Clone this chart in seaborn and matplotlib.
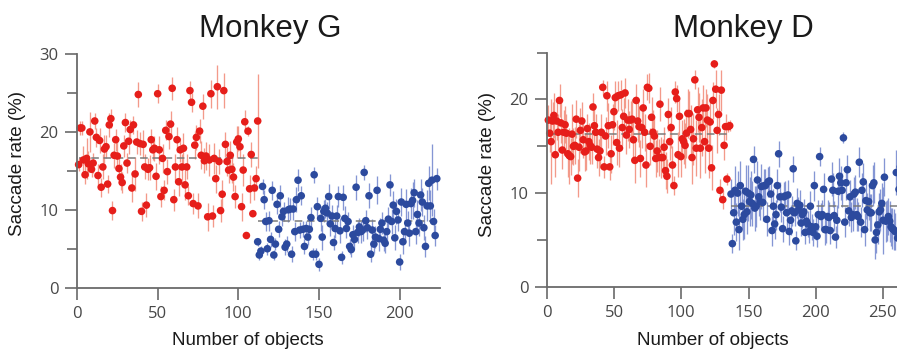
import numpy as np
import pandas as pd
import matplotlib
matplotlib.use("Agg")
import matplotlib.pyplot as plt
import seaborn as sns
from matplotlib.ticker import MultipleLocator

# ---------------- data ----------------
titles = ["Monkey G", "Monkey D"]
ylabel = "Saccade rate (%)"
xlabel = "Number of objects"

# Monkey G
red_G = [15.8, 20.5, 20.5, 16.4, 14.5, 16.6, 15.9, 20.0, 15.2, 16.0,
         21.4, 19.3, 14.4, 18.9, 12.9, 15.5, 17.8, 18.1, 13.3, 20.9,
         21.7, 9.9, 17.0, 19.0, 16.9, 15.3, 14.2, 13.5, 18.2, 21.2,
         16.0, 18.8, 20.3, 12.8, 20.9, 14.6, 18.7, 24.8, 18.5, 9.8,
         18.4, 15.5, 10.6, 15.2, 15.4, 19.0, 17.7, 17.9, 14.3, 24.9,
         17.7, 11.7, 16.6, 12.5, 20.2, 14.9, 19.4, 21.0, 25.6, 11.3,
         15.5, 19.0, 13.6, 17.7, 15.5, 17.9, 13.2, 15.5, 11.8, 25.3,
         23.8, 10.8, 18.3, 19.3, 10.5, 20.1, 17.0, 23.3, 16.3, 16.9,
         9.1, 16.4, 24.9, 9.2, 16.6, 14.0, 25.8, 16.2, 9.9, 12.0,
         25.3, 18.4, 16.2, 15.1, 17.0, 15.2, 14.2, 11.7, 18.7, 19.1,
         18.1, 10.4, 15.1, 21.3, 6.7, 20.1, 12.7, 17.1, 9.5, 12.8,
         14.0, 21.4]
red_G_err = [0.8, 0.9, 0.9, 1.8, 1.2, 2.6, 1.6, 2.6, 1.0, 1.3,
             1.0, 1.2, 1.5, 1.6, 1.2, 1.6, 1.8, 1.5, 1.2, 1.5,
             1.2, 1.2, 1.6, 1.4, 1.8, 1.5, 1.7, 1.4, 1.4, 1.2,
             1.3, 1.6, 1.2, 1.8, 1.2, 2.2, 1.5, 1.6, 1.5, 1.2,
             1.8, 1.6, 1.5, 1.4, 1.6, 1.4, 1.3, 1.6, 1.7, 1.2,
             1.8, 1.4, 1.9, 1.3, 1.3, 1.6, 1.6, 1.7, 1.5, 1.4,
             1.7, 1.6, 1.8, 1.5, 1.7, 2.0, 1.9, 1.6, 1.2, 1.2,
             1.2, 1.4, 1.8, 1.6, 1.6, 1.5, 1.8, 1.6, 1.6, 1.8,
             1.8, 2.0, 1.8, 1.4, 2.0, 1.8, 2.8, 1.6, 1.5, 1.8,
             2.2, 1.6, 1.8, 1.7, 1.8, 1.8, 1.8, 1.5, 2.0, 1.6,
             1.5, 1.8, 2.0, 1.5, 0.0, 0.6, 1.8, 1.6, 0.0, 1.5,
             1.6, 6.0]
blue_G = [5.9, 4.2, 4.7, 13.0, 11.3, 8.5, 5.0, 8.6, 6.2, 12.5,
          4.2, 5.6, 10.7, 7.5, 11.8, 9.1, 9.8, 5.2, 5.6, 10.0,
          10.1, 4.3, 10.1, 7.2, 11.3, 13.8, 7.4, 11.8, 7.5, 5.3,
          7.6, 6.5, 7.5, 9.0, 4.3, 14.5, 4.3, 10.4, 3.0, 8.9,
          6.5, 9.8, 10.2, 9.6, 11.7, 8.2, 9.2, 5.8, 7.6, 9.2,
          11.7, 7.3, 3.9, 11.6, 8.9, 7.6, 8.5, 5.3, 4.9, 6.8,
          6.2, 12.9, 7.1, 7.8, 7.2, 7.4, 14.8, 8.6, 7.7, 11.8,
          4.3, 7.4, 5.6, 6.5, 12.5, 6.3, 7.5, 8.3, 6.1, 5.7,
          7.2, 8.8, 13.2, 8.5, 10.6, 6.4, 9.8, 8.7, 3.3, 11.0,
          5.9, 7.2, 10.7, 8.3, 7.0, 10.8, 11.2, 12.2, 7.2, 9.4,
          8.3, 11.9, 11.0, 7.7, 5.3, 10.5, 13.4, 10.5, 13.8, 8.5,
          6.7, 14.0]
blue_G_err = [0.5, 0.6, 0.6, 1.0, 1.2, 1.2, 0.8, 1.3, 1.0, 1.2,
              0.6, 0.8, 1.2, 1.0, 1.4, 1.2, 1.2, 1.0, 1.0, 1.6,
              1.4, 1.0, 1.4, 1.2, 1.6, 1.4, 1.0, 1.2, 1.0, 1.0,
              1.0, 1.0, 1.4, 1.4, 0.8, 1.0, 0.8, 1.2, 0.8, 1.6,
              1.6, 1.4, 1.2, 1.4, 1.6, 1.6, 1.4, 1.0, 1.2, 1.4,
              1.4, 1.6, 0.8, 1.6, 1.6, 1.2, 1.2, 1.0, 1.0, 1.2,
              1.2, 1.6, 1.4, 1.2, 1.4, 1.4, 1.0, 1.4, 1.4, 1.6,
              1.0, 1.4, 1.2, 1.4, 1.8, 1.6, 1.4, 1.4, 1.4, 1.2,
              1.4, 1.6, 1.4, 1.6, 1.8, 1.6, 1.6, 1.4, 1.0, 1.8,
              1.6, 1.4, 2.0, 1.6, 1.6, 2.0, 2.4, 1.8, 1.6, 1.8,
              1.6, 2.0, 1.8, 1.6, 1.4, 2.0, 2.2, 2.0, 4.6, 1.6,
              1.4, 1.4]
red_G_range = (1, 112)
blue_G_range = (112, 223)
mean_G = (16.7, 8.5)

# Monkey D
red_D = [17.8, 16.4, 15.5, 17.7, 18.3, 14.1, 17.7, 16.5, 19.9, 17.5,
         14.6, 16.5, 17.3, 16.4, 14.2, 14.0, 13.9, 16.3, 15.0, 15.1,
         17.9, 11.6, 14.9, 16.7, 17.7, 15.7, 14.4, 14.5, 16.9, 15.5,
         15.1, 14.9, 19.2, 17.2, 16.5, 14.7, 13.8, 14.5, 16.5, 21.3,
         12.8, 16.1, 20.4, 17.2, 12.8, 14.2, 17.3, 18.7, 20.2, 15.4,
         20.4, 14.8, 20.5, 17.0, 18.2, 20.7, 16.2, 17.8, 16.8, 17.8,
         17.9, 15.7, 13.5, 19.9, 17.7, 17.1, 13.7, 17.0, 19.1, 16.5,
         13.0, 21.3, 21.2, 15.0, 18.1, 16.5, 16.1, 13.7, 14.5, 13.8,
         19.5, 13.8, 13.8, 14.9, 12.4, 11.8, 18.4, 15.5, 17.0, 13.0,
         10.8, 20.8, 20.1, 14.1, 18.2, 13.9, 15.8, 15.5, 15.1, 16.4,
         18.5, 18.5, 16.8, 13.8, 15.8, 22.1, 14.8, 18.9, 18.1, 14.8,
         17.0, 19.1, 15.5, 19.1, 17.8, 14.8, 17.6, 12.7, 19.9, 23.8,
         21.1, 16.7, 18.4, 10.3, 21.0, 9.3, 15.1, 17.1, 11.5, 17.1,
         17.2]
red_D_err = [1.6, 2.0, 4.5, 2.0, 2.4, 2.4, 2.0, 2.0, 1.8, 2.2,
             2.0, 2.4, 2.0, 2.0, 2.5, 3.0, 2.0, 3.2, 2.0, 2.0,
             2.0, 2.0, 2.5, 2.4, 2.0, 2.0, 2.0, 2.0, 1.6, 2.0,
             2.0, 1.8, 1.5, 2.2, 2.0, 2.0, 2.0, 1.8, 2.0, 0.8,
             1.2, 2.0, 1.6, 2.4, 1.4, 2.0, 2.2, 2.0, 1.8, 2.4,
             1.6, 2.0, 1.6, 2.0, 2.0, 1.6, 2.0, 2.2, 2.0, 2.0,
             2.2, 2.0, 2.4, 1.8, 2.2, 2.2, 2.0, 2.2, 2.0, 2.0,
             2.4, 1.4, 1.6, 2.0, 2.2, 2.4, 2.0, 2.0, 2.2, 2.0,
             1.8, 2.2, 2.0, 2.2, 2.0, 1.8, 1.8, 2.0, 2.2, 2.0,
             1.0, 1.2, 1.4, 2.4, 2.0, 2.2, 2.0, 2.4, 2.4, 2.6,
             2.6, 2.4, 2.6, 2.8, 2.8, 1.0, 3.0, 2.4, 2.6, 3.2,
             3.0, 2.4, 3.4, 2.0, 2.8, 3.2, 2.6, 2.4, 2.0, 0.4,
             2.0, 2.4, 2.2, 1.2, 2.2, 1.0, 1.6, 1.4, 0.6, 0.6,
             0.6]
blue_D = [9.9, 4.6, 7.9, 10.3, 6.9, 10.0, 6.1, 10.8, 8.6, 7.2,
          7.7, 10.2, 8.0, 10.0, 9.1, 9.8, 8.9, 13.6, 8.4, 8.6,
          11.4, 9.6, 9.1, 10.7, 9.0, 10.8, 10.8, 7.2, 11.2, 11.3,
          9.9, 6.0, 8.6, 6.7, 7.7, 10.8, 14.2, 9.6, 8.5, 6.2,
          9.6, 9.7, 7.9, 9.8, 5.9, 7.1, 8.1, 12.6, 7.9, 4.9,
          8.9, 8.2, 8.7, 6.8, 7.7, 8.0, 5.8, 7.0, 6.7, 5.9,
          8.6, 6.4, 5.8, 10.8, 6.4, 5.4, 7.7, 13.9, 7.5, 7.7,
          10.4, 6.1, 6.1, 7.5, 7.4, 6.0, 11.5, 10.3, 7.6, 5.3,
          7.1, 10.2, 11.8, 11.1, 10.3, 15.9, 6.9, 11.1, 12.5, 8.1,
          9.6, 7.4, 7.7, 9.9, 10.1, 7.7, 7.5, 13.3, 6.9, 10.3,
          11.2, 6.1, 9.2, 8.2, 9.1, 7.9, 7.9, 10.8, 11.1, 5.0,
          5.8, 6.6, 8.0, 8.2, 8.9, 7.1, 11.7, 7.0, 7.1, 7.5,
          7.0, 6.4, 6.2, 6.1, 5.9, 12.2, 5.2, 10.4, 12.8]
blue_D_err = [1.6, 1.0, 2.4, 2.6, 2.0, 2.4, 2.2, 2.6, 2.4, 2.2,
              2.6, 2.8, 2.4, 3.0, 2.6, 2.6, 2.4, 1.4, 2.4, 2.2,
              2.0, 2.0, 2.0, 2.4, 2.0, 1.8, 1.8, 1.8, 1.6, 1.6,
              1.6, 1.6, 1.8, 1.6, 1.6, 1.8, 1.4, 1.6, 1.6, 1.4,
              1.6, 1.6, 1.8, 1.6, 1.4, 1.6, 1.6, 1.4, 1.4, 1.0,
              1.6, 1.4, 1.6, 1.4, 1.4, 1.4, 1.2, 1.4, 1.4, 1.2,
              1.6, 1.4, 1.4, 1.6, 1.4, 1.2, 1.6, 1.0, 1.4, 1.6,
              1.8, 1.6, 1.4, 1.8, 1.6, 1.4, 1.8, 1.8, 1.6, 1.2,
              1.6, 1.8, 2.0, 1.8, 1.8, 0.6, 1.6, 1.8, 1.6, 1.6,
              1.8, 1.6, 1.8, 1.8, 1.8, 1.8, 1.6, 1.6, 1.6, 1.8,
              2.0, 1.8, 2.0, 1.8, 2.0, 2.0, 2.0, 2.2, 2.2, 2.0,
              2.2, 2.0, 2.0, 2.2, 2.2, 3.6, 2.0, 2.2, 2.2, 2.0,
              2.2, 2.0, 2.2, 2.2, 2.0, 2.4, 2.0, 2.4, 2.6]
red_D_range = (1, 136)
blue_D_range = (137, 263)
mean_D = (16.3, 8.6)

# ---------------- styling ----------------
sns.set_style("ticks")
plt.rcParams['font.family'] = ['Open Sans', 'DejaVu Sans']

RED = "#e61e1a"
RED_ERR = "#f39a8a"
BLUE = "#2c4a9e"
BLUE_ERR = "#8596d4"
AX_COL = "#6a6a6a"
TXT_COL = "#474747"

W, H = 897, 353
fig = plt.figure(figsize=(W / 100, H / 100), dpi=100)

ax_G = fig.add_axes([77 / W, (H - 287.7) / H, 363 / W, 233.7 / H])
ax_D = fig.add_axes([547 / W, (H - 286.7) / H, 403 / W, 234 / H])


def make_df(vals, errs, rng, group):
    x = np.linspace(rng[0], rng[1], len(vals))
    return pd.DataFrame({"x": x, "y": vals, "err": errs, "group": group})


def draw(ax, red, red_err, red_rng, blue, blue_err, blue_rng, means,
         xmax, ymax, xticks, yticks):
    df = pd.concat([make_df(red, red_err, red_rng, "first"),
                    make_df(blue, blue_err, blue_rng, "second")],
                   ignore_index=True)
    for g, col in (("first", RED_ERR), ("second", BLUE_ERR)):
        d = df[df.group == g]
        ax.vlines(d.x, d.y - d.err, d.y + d.err, colors=col, lw=0.95,
                  zorder=1, clip_on=False)
    # mean lines
    ax.plot(red_rng, [means[0]] * 2, ls=(0, (5, 3)), color="#7a7a7a",
            lw=1.1, zorder=1.5)
    ax.plot(blue_rng, [means[1]] * 2, ls=(0, (5, 3)), color="#7a7a7a",
            lw=1.1, zorder=1.5)
    sns.scatterplot(data=df, x="x", y="y", hue="group",
                    palette={"first": RED, "second": BLUE},
                    s=30, linewidth=0, ax=ax, legend=False, zorder=2,
                    clip_on=False)
    ax.set_xlim(0, xmax)
    ax.set_ylim(0, ymax)
    ax.set_xticks(xticks)
    ax.set_yticks(yticks)
    ax.yaxis.set_minor_locator(MultipleLocator(5))
    ax.set_xlabel("")
    ax.set_ylabel("")
    for s in ("top", "right"):
        ax.spines[s].set_visible(False)
    for s in ("left", "bottom"):
        ax.spines[s].set_color(AX_COL)
        ax.spines[s].set_linewidth(1.3)
    ax.tick_params(which="major", length=8.5, width=1.2, color=AX_COL,
                   labelcolor=TXT_COL, labelsize=12, pad=5)
    ax.tick_params(which="minor", length=7, width=1.2, color=AX_COL)
    ax.tick_params(axis="x", which="minor", bottom=False)
    ax.set_facecolor("none")


draw(ax_G, red_G, red_G_err, red_G_range, blue_G, blue_G_err, blue_G_range,
     mean_G, 225, 30, [0, 50, 100, 150, 200], [0, 10, 20, 30])
draw(ax_D, red_D, red_D_err, red_D_range, blue_D, blue_D_err, blue_D_range,
     mean_D, 300, 25, [0, 50, 100, 150, 200, 250], [0, 10, 20])

title_font = dict(family=["Liberation Sans", "DejaVu Sans"], color="#1a1a1a")
fig.text(270 / W, 1 - 37 / H, titles[0], ha="center", va="baseline",
         fontsize=22.5, **title_font)
fig.text(743 / W, 1 - 37 / H, titles[1], ha="center", va="baseline",
         fontsize=22.5, **title_font)

lab_font = dict(family=["Liberation Sans", "DejaVu Sans"], color="#1a1a1a",
                fontsize=13.5)
fig.text(17 / W, 1 - 163 / H, ylabel, rotation=90, ha="center", va="center",
         **lab_font)
fig.text(487 / W, 1 - 165 / H, ylabel, rotation=90, ha="center", va="center",
         **lab_font)
fig.text(248 / W, 8 / H, xlabel, ha="center", va="baseline", **lab_font)
fig.text(713 / W, 8 / H, xlabel, ha="center", va="baseline", **lab_font)

fig.savefig("out.png", dpi=100, facecolor="white")
